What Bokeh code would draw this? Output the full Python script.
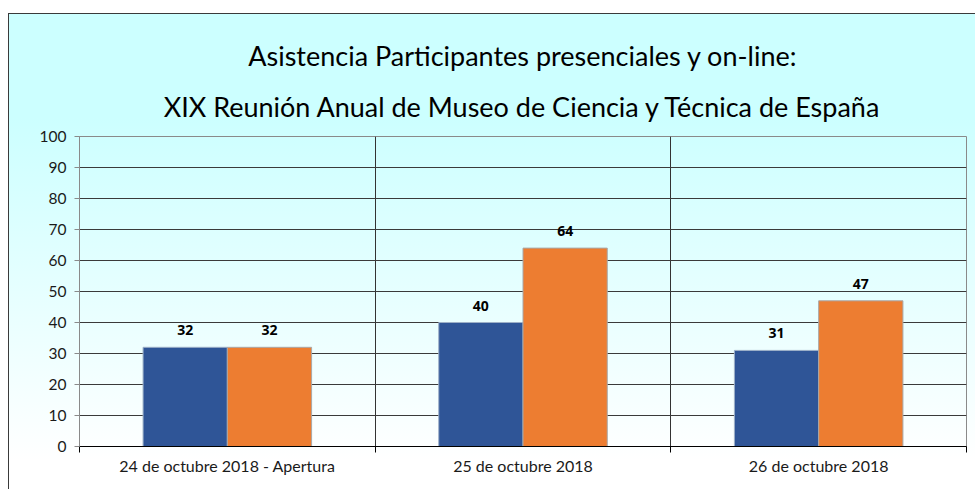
from bokeh.plotting import figure
from bokeh.models import ColumnDataSource, FixedTicker, Title, Range1d, LabelSet
from bokeh.core.properties import value
from bokeh.transform import dodge
from bokeh.embed import file_html
from bokeh.resources import INLINE

categories = ["24 de octubre 2018 - Apertura", "25 de octubre 2018", "26 de octubre 2018"]
presenciales = [32, 40, 31]
online = [32, 64, 47]
y_ticks = list(range(0, 101, 10))
title_line1 = "Asistencia Participantes presenciales y on-line:"
title_line2 = "XIX Reunión Anual de Museo de Ciencia y Técnica de España"

FONT = "Lato"
BOLD_FONT = "Open Sans"
bar_w = 0.285
centers = [i + 0.5 for i in range(len(categories))]
boundaries = list(range(len(categories) + 1))

src = ColumnDataSource(dict(
    x=centers,
    pres=presenciales,
    onl=online,
    pres_txt=[str(v) for v in presenciales],
    onl_txt=[str(v) for v in online],
))

p = figure(width=967, height=476, output_backend="svg", toolbar_location=None,
           x_range=Range1d(0, len(categories)), y_range=Range1d(0, 100),
           min_border_left=71, min_border_right=9, min_border_top=123,
           min_border_bottom=43)

p.styles = {
    "background": "linear-gradient(to bottom, #CCFFFF 0%, #CCFFFF 22%, #FFFFFF 94%)",
    "box-shadow": "inset 1px 1px 0 0 #3a3a3a",
    "transform": "translate(8px, 13px)",
}
p.border_fill_alpha = 0
p.background_fill_alpha = 0
p.outline_line_color = "#8a8a8a"

p.vbar(x=dodge("x", -bar_w / 2), top="pres", width=bar_w, source=src,
       fill_color="#2F5597", line_color="#9DB0C8", line_width=1)
p.vbar(x=dodge("x", bar_w / 2), top="onl", width=bar_w, source=src,
       fill_color="#ED7D31", line_color="#A8A8A8", line_width=1)

for col, txt, off in (("pres", "pres_txt", -bar_w / 2), ("onl", "onl_txt", bar_w / 2)):
    p.add_layout(LabelSet(x=dodge("x", off), y=col, text=txt, source=src,
                          text_align="center", text_baseline="bottom", y_offset=12,
                          text_font=value(BOLD_FONT), text_font_size="14px",
                          text_font_style="bold", text_color="#000000"))

# x axis
p.xaxis.ticker = FixedTicker(ticks=centers, minor_ticks=boundaries)
p.xaxis.major_label_overrides = {c: lab for c, lab in zip(centers, categories)}
p.xaxis.major_tick_line_color = None
p.xaxis.minor_tick_line_color = "#000000"
p.xaxis.minor_tick_out = 6
p.xaxis.minor_tick_in = 0
p.xaxis.axis_line_color = "#000000"
p.xaxis.major_label_text_font = FONT
p.xaxis.major_label_text_font_size = "16px"
p.xaxis.major_label_text_color = "#1a1a1a"
p.xaxis.major_label_standoff = 3

# y axis
p.yaxis.ticker = FixedTicker(ticks=y_ticks)
p.yaxis.minor_tick_line_color = None
p.yaxis.major_tick_line_color = "#8a8a8a"
p.yaxis.major_tick_out = 5
p.yaxis.major_tick_in = 0
p.yaxis.axis_line_color = "#8a8a8a"
p.yaxis.major_label_text_font = FONT
p.yaxis.major_label_text_font_size = "15.5px"
p.yaxis.major_label_text_color = "#1a1a1a"
p.yaxis.major_label_standoff = 8

# grids
p.xgrid.ticker = FixedTicker(ticks=boundaries[1:-1])
p.xgrid.grid_line_color = "#333333"
p.ygrid.ticker = FixedTicker(ticks=y_ticks)
p.ygrid.grid_line_color = "#3a3a3a"

p.add_layout(Title(text=title_line2, align="center", text_font=FONT,
                   text_font_size="27px", text_font_style="normal",
                   text_color="#000000", standoff=28), "above")
p.add_layout(Title(text=title_line1, align="center", text_font=FONT,
                   text_font_size="27px", text_font_style="normal",
                   text_color="#000000", standoff=3), "above")

open("out.html", "w").write(file_html(p, INLINE))
